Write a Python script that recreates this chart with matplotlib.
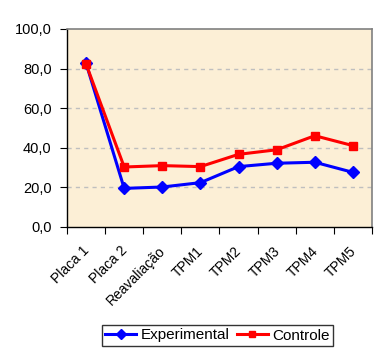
import matplotlib
matplotlib.use("Agg")
import matplotlib.pyplot as plt
from matplotlib.ticker import FuncFormatter, MultipleLocator
from matplotlib.transforms import ScaledTranslation

categories = ["Placa 1", "Placa 2", "Reavaliação", "TPM1", "TPM2", "TPM3", "TPM4", "TPM5"]
experimental = [82.7, 19.5, 20.2, 22.4, 30.5, 32.2, 32.7, 27.6]
controle = [82.3, 30.3, 31.0, 30.5, 36.7, 39.0, 46.1, 41.1]

plt.rcParams['font.family'] = ['Liberation Sans', 'DejaVu Sans']

fig = plt.figure(figsize=(3.88, 3.57), dpi=100)
ax = fig.add_axes([67/388, 1 - 227/357, 305/388, 198/357])
ax.set_facecolor('#FCEFD6')

x = [i + 0.5 for i in range(len(categories))]
ax.plot(x, experimental, color='#0000FF', lw=2.2, marker='D', ms=6, label='Experimental', zorder=3)
ax.plot(x, controle, color='#FF0000', lw=2.2, marker='s', ms=6, label='Controle', zorder=4)

ax.set_xlim(0, len(categories))
ax.set_ylim(0, 100)
ax.yaxis.set_major_locator(MultipleLocator(20))
ax.yaxis.set_major_formatter(FuncFormatter(lambda v, p: f"{v:.1f}".replace('.', ',')))
for yv in [20, 40, 60, 80]:
    ax.axhline(yv, color='#BFBFBF', lw=1, ls=(0, (3, 3)), zorder=1)

ax.set_xticks(range(len(categories) + 1))
ax.set_xticklabels([])
ax.set_xticks(x, minor=True)
ax.set_xticklabels(categories, minor=True, rotation=45, ha='right', va='top', rotation_mode='anchor', fontsize=10)
ax.tick_params(axis='x', which='minor', length=0, pad=12)
ax.tick_params(axis='x', which='major', length=5, direction='out', color='black')
ax.tick_params(axis='y', length=5, labelsize=10.5, color='black', pad=6)
off = ScaledTranslation(-4/100, 0, fig.dpi_scale_trans)
for lab in ax.get_xticklabels(minor=True):
    lab.set_transform(lab.get_transform() + off)

for s in ['top', 'right']:
    ax.spines[s].set_color('#808080')
    ax.spines[s].set_linewidth(1.2)
for s in ['left', 'bottom']:
    ax.spines[s].set_color('black')
    ax.spines[s].set_linewidth(1)

leg = fig.legend(loc='center', bbox_to_anchor=(217.5/388, 1 - 335.5/357), ncol=2, fontsize=11,
                 frameon=True, fancybox=False, edgecolor='black', handlelength=2.0, columnspacing=0.5,
                 handletextpad=0.3, borderpad=0.25, markerscale=0.8, borderaxespad=0)
leg.get_frame().set_linewidth(1)

fig.savefig('out.png', dpi=100)
